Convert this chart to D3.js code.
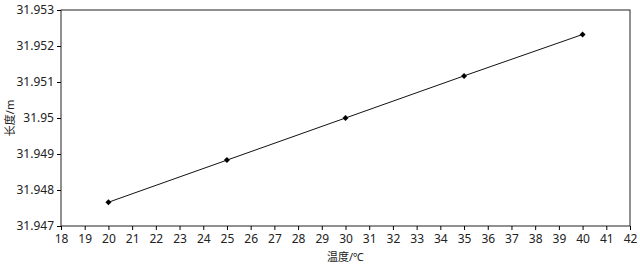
<!DOCTYPE html>
<html>
<head>
<meta charset="utf-8">
<script src="https://cdn.jsdelivr.net/npm/d3@7"></script>
<style>
  body { margin: 0; background: #fff; }
  text { font-family: "Noto Sans", "Noto Sans CJK SC", sans-serif; fill: #222; }
</style>
</head>
<body>
<div id="chart"></div>
<script>
const temps = [20, 25, 30, 35, 40]
const lengths = [31.94766, 31.94883, 31.95000, 31.95117, 31.95232]
const xTicks = d3.range(18, 43, 1)
const yTicks = [31.947, 31.948, 31.949, 31.95, 31.951, 31.952, 31.953]

const width = 640
const height = 266
const padding = {top: 10, right: 10, bottom: 40, left: 61}

const svg = d3.select('#chart').append('svg')
  .attr('width', width).attr('height', height)

const xScale = d3.scaleLinear().domain([18, 42]).range([padding.left, width - padding.right])
const yScale = d3.scaleLinear().domain([31.947, 31.953]).range([height - padding.bottom, padding.top])

// frame
svg.append('rect')
  .attr('x', padding.left).attr('y', padding.top)
  .attr('width', width - padding.left - padding.right)
  .attr('height', height - padding.top - padding.bottom)
  .attr('fill', 'none').attr('stroke', '#222').attr('stroke-width', 1)

const xAxis = svg.append('g')
  .attr('transform', `translate(0, ${height - padding.bottom})`)
  .call(d3.axisBottom(xScale).tickValues(xTicks).tickSize(4).tickPadding(4).tickFormat(d3.format('d')))
xAxis.select('.domain').remove()
xAxis.selectAll('text').attr('font-size', 12).attr('fill', '#222')

const yAxis = svg.append('g')
  .attr('transform', `translate(${padding.left}, 0)`)
  .call(d3.axisLeft(yScale).tickValues(yTicks).tickSize(4).tickPadding(3).tickFormat(d => String(+d.toFixed(3))))
yAxis.select('.domain').remove()
yAxis.selectAll('text').attr('font-size', 12).attr('fill', '#222')

svg.append('text')
  .text('温度/℃')
  .attr('x', (padding.left + width - padding.right) / 2)
  .attr('y', height - 5)
  .attr('text-anchor', 'middle').attr('font-size', 11)

svg.append('text')
  .text('长度/m')
  .attr('transform', `translate(14, ${(padding.top + height - padding.bottom) / 2}) rotate(-90)`)
  .attr('text-anchor', 'middle').attr('font-size', 11)

const dataset = temps.map((t, i) => ({t, v: lengths[i]}))

const line = d3.line()
  .x(d => xScale(d.t))
  .y(d => yScale(d.v))

svg.append('path')
  .attr('d', line(dataset))
  .attr('stroke', '#111').attr('stroke-width', 1).attr('fill', 'none')

// diamond markers: squares turned 45 degrees
svg.selectAll('path.pt')
  .data(dataset)
  .enter()
  .append('path')
  .attr('class', 'pt')
  .attr('d', d3.symbol(d3.symbolSquare, 18))
  .attr('transform', d => `translate(${xScale(d.t)}, ${yScale(d.v)}) rotate(45)`)
  .attr('fill', '#000')
</script>
</body>
</html>
